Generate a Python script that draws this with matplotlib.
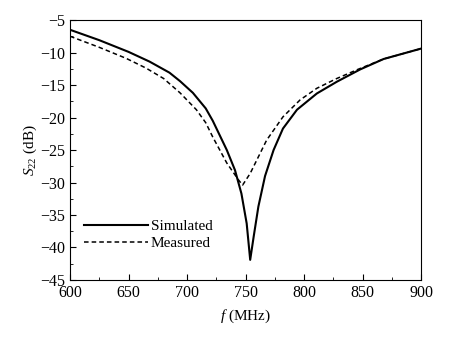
import matplotlib
matplotlib.use('Agg')
import matplotlib.pyplot as plt
from matplotlib.ticker import MultipleLocator

plt.rcParams['font.family'] = ['Liberation Serif', 'DejaVu Serif']
plt.rcParams['mathtext.fontset'] = 'custom'
plt.rcParams['mathtext.rm'] = 'Liberation Serif'
plt.rcParams['mathtext.it'] = 'Liberation Serif:italic'

# Simulated S22
f_sim = [600, 625, 650, 668, 685, 694, 705, 716, 722, 734, 741, 746.5, 751,
         754, 757, 761, 766.7, 774, 782, 794, 811, 828, 848, 868, 882, 900]
s_sim = [-6.5, -8.1, -9.9, -11.4, -13.1, -14.4, -16.2, -18.6, -20.5, -25.0,
         -28.1, -31.7, -36.3, -41.9, -38.3, -33.7, -29.0, -25.0, -21.7,
         -18.8, -16.3, -14.5, -12.6, -11.0, -10.3, -9.4]

# Measured S22
f_meas = [600, 625, 648, 665, 680, 694, 708, 716, 722, 734, 744, 747.5, 754,
          768, 782, 796.6, 811, 828, 846, 868, 882, 900]
s_meas = [-7.5, -9.2, -10.9, -12.4, -14.0, -16.2, -18.8, -20.8, -23.0, -27.0,
          -29.6, -30.4, -28.6, -23.5, -19.9, -17.3, -15.5, -14.0, -12.6,
          -11.0, -10.3, -9.4]

fig = plt.figure(figsize=(4.68, 3.41), dpi=100)
ax = fig.add_axes([0.1496, 0.1789, 0.75, 0.7624])

ax.plot(f_sim, s_sim, color='black', lw=1.5, label='Simulated',
        solid_joinstyle='round')
ax.plot(f_meas, s_meas, color='black', lw=1.1, ls=(0, (3, 2)), label='Measured')

ax.set_xlim(600, 900)
ax.set_ylim(-45, -5)
ax.xaxis.set_major_locator(MultipleLocator(50))
ax.xaxis.set_minor_locator(MultipleLocator(25))
ax.yaxis.set_major_locator(MultipleLocator(5))
ax.yaxis.set_minor_locator(MultipleLocator(2.5))
ax.tick_params(which='both', direction='in', top=False, right=False, labelsize=11.5)
ax.tick_params(which='major', length=4)
ax.tick_params(which='minor', length=2)
ax.set_yticklabels([f'\u2212{abs(int(v))}' for v in ax.get_yticks()])

ax.set_xlabel(r'$f$ (MHz)', fontsize=11, labelpad=5)
ax.set_ylabel(r'$S_{22}$ (dB)', fontsize=11, labelpad=1)

ax.legend(loc='lower left', bbox_to_anchor=(0.0, 0.062), frameon=False,
          fontsize=11, handlelength=4.2, handletextpad=0.2, labelspacing=0.2)

fig.savefig('out.png', dpi=100)
